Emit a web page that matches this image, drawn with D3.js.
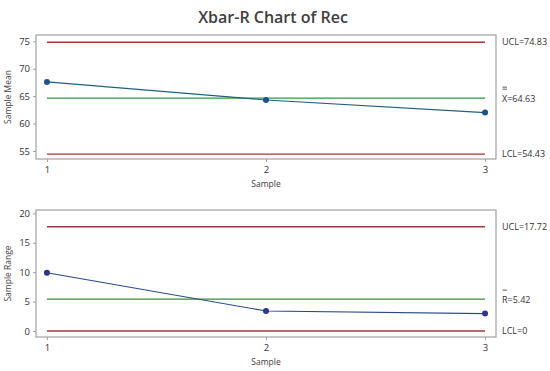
<!DOCTYPE html>
<html>
<head>
<meta charset="utf-8">
<script src="https://cdn.jsdelivr.net/npm/d3@7"></script>
<style>
  body { margin: 0; background: #fff; }
  text { font-family: 'Open Sans', 'Noto Sans', sans-serif; fill: #333; }
</style>
</head>
<body>
<div></div>
<script>
const samples = [1, 2, 3];
const sampleMeans = [67.6, 64.3, 62.0];
const sampleRanges = [9.9, 3.4, 2.96];

const meanLimits = { ucl: 74.83, cl: 64.63, lcl: 54.43 };
const rangeLimits = { ucl: 17.72, cl: 5.42, lcl: 0 };

const meanTicks = [55, 60, 65, 70, 75];
const rangeTicks = [0, 5, 10, 15, 20];

const w = 550;
const h = 371;

const svg = d3
  .select('body')
  .select('div')
  .append('svg')
  .attr('width', w)
  .attr('height', h);

svg
  .append('text')
  .attr('x', 273)
  .attr('y', 23)
  .attr('text-anchor', 'middle')
  .style('font-size', '16px')
  .style('font-weight', '600')
  .style('fill', '#404040')
  .text('Xbar-R Chart of Rec');

const x = d3.scaleLinear().domain([0.95, 3.05]).range([36, 496]);

function drawPanel(opts) {
  const y = d3.scaleLinear().domain(opts.domain).range([opts.bottom, opts.top]);
  const g = svg.append('g');

  // frame
  g.append('rect')
    .attr('x', x.range()[0])
    .attr('y', opts.top)
    .attr('width', x.range()[1] - x.range()[0])
    .attr('height', opts.bottom - opts.top)
    .style('fill', 'none')
    .style('stroke', '#a0a0a0')
    .style('stroke-width', 1.2);

  // axes
  const yAxis = g
    .append('g')
    .attr('transform', `translate(${x.range()[0]},0)`)
    .call(d3.axisLeft(y).tickValues(opts.ticks).tickSize(3).tickPadding(3));
  const xAxis = g
    .append('g')
    .attr('transform', `translate(0,${opts.bottom})`)
    .call(d3.axisBottom(x).tickValues(samples).tickFormat(d3.format('d')).tickSize(3).tickPadding(4));
  [yAxis, xAxis].forEach((a) => {
    a.select('.domain').remove();
    a.selectAll('line').style('stroke', '#a0a0a0');
    a.selectAll('text').style('font-size', '9.5px').style('fill', '#333');
  });

  // control lines
  const lines = [
    { v: opts.limits.ucl, c: '#9e3a35' },
    { v: opts.limits.cl, c: opts.clColor },
    { v: opts.limits.lcl, c: '#9e3a35' }
  ];
  g.selectAll('.ctl')
    .data(lines)
    .enter()
    .append('line')
    .attr('x1', x(1))
    .attr('x2', x(3))
    .attr('y1', (d) => y(d.v))
    .attr('y2', (d) => y(d.v))
    .style('stroke', (d) => d.c)
    .style('stroke-width', 1.3);

  // data line
  const line = d3
    .line()
    .x((d, i) => x(samples[i]))
    .y((d) => y(d));
  g.append('path')
    .datum(opts.values)
    .attr('d', line)
    .style('fill', 'none')
    .style('stroke', opts.lineColor)
    .style('stroke-width', 1.2);
  g.selectAll('.pt')
    .data(opts.values)
    .enter()
    .append('circle')
    .attr('cx', (d, i) => x(samples[i]))
    .attr('cy', (d) => y(d))
    .attr('r', 3)
    .style('fill', opts.pointColor);

  // right labels
  const lx = 502;
  g.append('text').attr('x', lx).attr('y', y(opts.limits.ucl) + 3)
    .style('font-size', '9px').text('UCL=' + opts.limits.ucl);
  g.append('text').attr('x', lx).attr('y', y(opts.limits.cl) + 4)
    .style('font-size', '9px').text(opts.clLabel + '=' + opts.limits.cl);
  // bars over the center label
  for (let k = 0; k < opts.bars; k++) {
    g.append('line')
      .attr('x1', lx + 0.5)
      .attr('x2', lx + 5)
      .attr('y1', y(opts.limits.cl) - 9 - k * 2)
      .attr('y2', y(opts.limits.cl) - 9 - k * 2)
      .style('stroke', '#333')
      .style('stroke-width', 0.8);
  }
  g.append('text').attr('x', lx).attr('y', y(opts.limits.lcl) + 3)
    .style('font-size', '9px').text('LCL=' + opts.limits.lcl);

  // axis titles
  g.append('text')
    .attr('transform', `translate(11,${(opts.top + opts.bottom) / 2}) rotate(-90)`)
    .attr('text-anchor', 'middle')
    .style('font-size', '8.5px')
    .style('fill', '#404040')
    .text(opts.yTitle);
  g.append('text')
    .attr('x', 266)
    .attr('y', opts.bottom + 28)
    .attr('text-anchor', 'middle')
    .style('font-size', '8.5px')
    .style('fill', '#404040')
    .text('Sample');
}

drawPanel({
  top: 35,
  bottom: 159,
  domain: [53.54, 76.15],
  ticks: meanTicks,
  limits: meanLimits,
  values: sampleMeans,
  clLabel: 'X',
  bars: 2,
  clColor: '#2e9a48',
  lineColor: '#1f5f86',
  pointColor: '#1f4f8f',
  yTitle: 'Sample Mean'
});

drawPanel({
  top: 210,
  bottom: 337,
  domain: [-1.02, 20.57],
  ticks: rangeTicks,
  limits: rangeLimits,
  values: sampleRanges,
  clLabel: 'R',
  bars: 1,
  clColor: '#3d8a3a',
  lineColor: '#2b4a8a',
  pointColor: '#2b3590',
  yTitle: 'Sample Range'
});
</script>
</body>
</html>
